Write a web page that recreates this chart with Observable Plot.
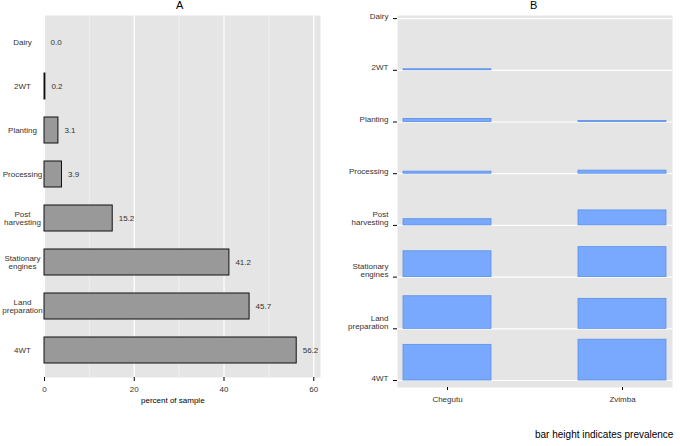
<!DOCTYPE html>
<html><head><meta charset="utf-8">
<script src="https://cdn.jsdelivr.net/npm/d3@7"></script>
<script src="https://cdn.jsdelivr.net/npm/@observablehq/plot@0.6"></script>
<style>
body{margin:0;background:#fff;font-family:"Liberation Sans",Arial,sans-serif;}
#wrap{position:relative;width:680px;height:446px;}
.t{position:absolute;font-size:11px;color:#000;}
</style></head><body>
<div id="wrap">
<div class="t" style="left:176px;top:-1px">A</div>
<div class="t" style="left:530px;top:-1px">B</div>
<div id="a" style="position:absolute;left:0;top:0"></div>
<div id="b" style="position:absolute;left:338px;top:0"></div>
<div class="t" style="left:141px;top:396px;font-size:8px">percent of sample</div>
<div class="t" style="left:535px;top:429px;font-size:10px">bar height indicates prevalence</div>
</div>
<script>
const categories = ["Dairy","2WT","Planting","Processing","Post\nharvesting","Stationary\nengines","Land\npreparation","4WT"];
const overall = [0.0,0.2,3.1,3.9,15.2,41.2,45.7,56.2];
const districts = ["Chegutu","Zvimba"];
const chegutu = [0,2,6,4,12,50,63,69];
const zvimba = [0,0,2,6,29,58,58,79];
const xTicks = [0,20,40,60];

const dataA = categories.map((c,i)=>({cat:c,v:overall[i]}));
const fontStyle = {fontFamily:"Liberation Sans, Arial, sans-serif", fontSize:"8px", background:"transparent"};

const a = Plot.plot({
  width:330,height:410,marginLeft:44,marginRight:10,marginTop:15,marginBottom:33,
  style:fontStyle,
  x:{domain:[0,61.5],ticks:xTicks,label:null,tickSize:4},
  y:{domain:categories,paddingInner:0.4,paddingOuter:0.3,label:null,tickSize:0,tickPadding:0},
  marks:[
    Plot.frame({fill:"#e5e5e5",stroke:null}),
    Plot.ruleX([10,30,50],{stroke:"#f2f2f2",strokeWidth:0.8}),
    Plot.ruleX(xTicks,{stroke:"#fff",strokeWidth:1.2}),
    Plot.barX(dataA,{x:"v",y:"cat",fill:"#999",stroke:"#111",strokeWidth:1}),
    Plot.text(dataA,{x:"v",y:"cat",text:d=>d.v.toFixed(1),dx:6,textAnchor:"start",fill:"#333"}),
    Plot.axisY({tickSize:0,textAnchor:"middle",dx:-22,tickPadding:0,fill:"#333"}),
    Plot.axisX({tickSize:4,fill:"#333",label:null})
  ]
});
document.getElementById("a").appendChild(a);

const dataB = [];
categories.forEach((c,i)=>{
  const row = categories.length-1-i;
  dataB.push({d:"Chegutu",y1:row*100,y2:row*100+chegutu[i]});
  dataB.push({d:"Zvimba",y1:row*100,y2:row*100+zvimba[i]});
});
const rows = categories.map((c,i)=>(categories.length-1-i)*100);
const b = Plot.plot({
  width:342,height:410,marginLeft:59,marginRight:8,marginTop:15,marginBottom:23,
  style:fontStyle,
  x:{domain:districts,paddingInner:0.497,paddingOuter:0.034,label:null,tickSize:3},
  y:{domain:[-13.5,706],label:null},
  marks:[
    Plot.frame({fill:"#e5e5e5",stroke:null}),
    Plot.ruleY(rows,{stroke:"#fff",strokeWidth:1.2}),
    Plot.rectY(dataB.filter(d=>d.y2>d.y1),{x:"d",y1:"y1",y2:"y2",fill:"#78a9ff",stroke:"#5a8fe6",strokeWidth:0.8}),
    Plot.axisY(rows,{tickFormat:(v)=>categories[categories.length-1-v/100],tickSize:4,fill:"#333",lineAnchor:"bottom"}),
    Plot.axisX({tickSize:3,fill:"#333"})
  ]
});
document.getElementById("b").appendChild(b);
</script>
</body></html>
